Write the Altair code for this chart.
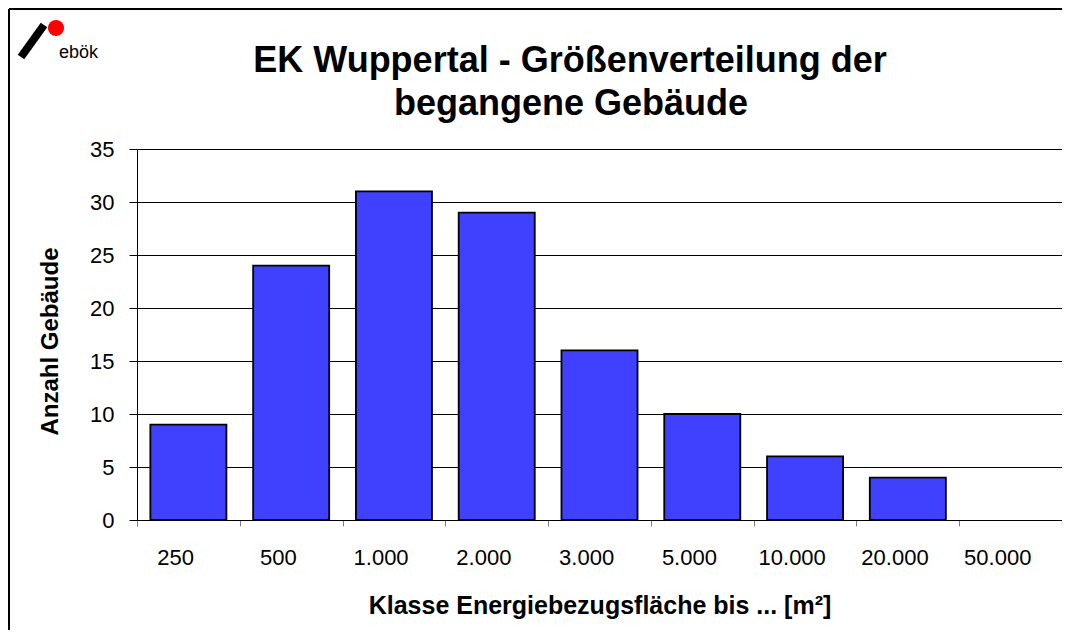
import altair as alt
import pandas as pd

categories = ["250", "500", "1.000", "2.000", "3.000", "5.000", "10.000", "20.000", "50.000"]
counts = [9, 24, 31, 29, 16, 10, 6, 4, 0]
y_ticks = [0, 5, 10, 15, 20, 25, 30, 35]
title_lines = ["EK Wuppertal - Größenverteilung der", "begangene Gebäude"]

df = pd.DataFrame({"Klasse": categories, "Anzahl": counts})
one = pd.DataFrame({"k": [0]})

FONT = "Liberation Sans"
W, H = 925, 371
STEP = W / len(categories)
PAD_IN = 0.26

bars = alt.Chart(df).mark_bar(
    color="#4040FF", stroke="black"
).encode(
    x=alt.X(
        "Klasse:N",
        sort=categories,
        scale=alt.Scale(paddingInner=PAD_IN, paddingOuter=PAD_IN / 2),
        axis=alt.Axis(
            title="Klasse Energiebezugsfläche bis ... [m²]",
            titleFont=FONT, titleFontSize=25, titleFontWeight="bold",
            titleColor="black", titleBaseline="alphabetic",
            titleX=W / 2, titleY=93,
            labelFont=FONT, labelFontSize=22, labelColor="black",
            labelAngle=0, labelPadding=38, labelBaseline="alphabetic",
            bandPosition=0, tickOffset=-PAD_IN * STEP / 2,
            ticks=True, tickSize=6, tickColor="#808080",
            domain=True, domainColor="black", domainWidth=1,
            grid=False,
        ),
    ),
    y=alt.Y(
        "Anzahl:Q",
        scale=alt.Scale(domain=[0, 35], nice=False),
        axis=alt.Axis(
            values=y_ticks,
            title="Anzahl Gebäude",
            titleFont=FONT, titleFontSize=24, titleFontWeight="bold",
            titleColor="black", titleAngle=-90,
            titleBaseline="middle", titleAlign="center",
            titleX=-87, titleY=192,
            labelFont=FONT, labelFontSize=22, labelColor="black",
            labelPadding=15,
            tickSize=8, tickColor="black",
            domain=True, domainColor="black",
            grid=True, gridColor="black", gridWidth=1, gridOpacity=1,
        ),
    ),
    strokeWidth=alt.condition(alt.datum.Anzahl > 0, alt.value(1.8), alt.value(0)),
)

title1 = alt.Chart(one).mark_text(
    text=title_lines[0], font=FONT, fontSize=36, fontWeight="bold",
    align="center", baseline="alphabetic", color="black"
).encode(x=alt.value(433), y=alt.value(-77))
title2 = alt.Chart(one).mark_text(
    text=title_lines[1], font=FONT, fontSize=36, fontWeight="bold",
    align="center", baseline="alphabetic", color="black"
).encode(x=alt.value(434), y=alt.value(-34))

frame_left = alt.Chart(one).mark_rule(color="black", strokeWidth=2).encode(
    x=alt.value(-128), y=alt.value(-140), y2=alt.value(600)
)
frame_top = alt.Chart(one).mark_rule(color="black", strokeWidth=2).encode(
    x=alt.value(-128), x2=alt.value(1000), y=alt.value(-140)
)
logo_bar = alt.Chart(one).mark_rule(color="black", strokeWidth=8).encode(
    x=alt.value(-116), x2=alt.value(-93), y=alt.value(-92), y2=alt.value(-124)
)
logo_dot = alt.Chart(one).mark_point(
    shape="circle", filled=True, color="#FF0000", size=260, opacity=1
).encode(x=alt.value(-81), y=alt.value(-121))
logo_text = alt.Chart(one).mark_text(
    text="ebök", font=FONT, fontSize=18, align="left", baseline="alphabetic", color="black"
).encode(x=alt.value(-78), y=alt.value(-91))

chart = alt.layer(
    bars, title1, title2, frame_left, frame_top, logo_bar, logo_dot, logo_text
).properties(
    width=W,
    height=H,
    autosize=alt.AutoSizeParams(type="none"),
    padding={"left": 129, "top": 141, "right": 0, "bottom": 110},
).configure_view(
    fill="#C0C0C0", stroke="#808080", strokeWidth=2
).configure(background="white")

chart.save("out.html", embed_options={"renderer": "svg", "actions": False})
